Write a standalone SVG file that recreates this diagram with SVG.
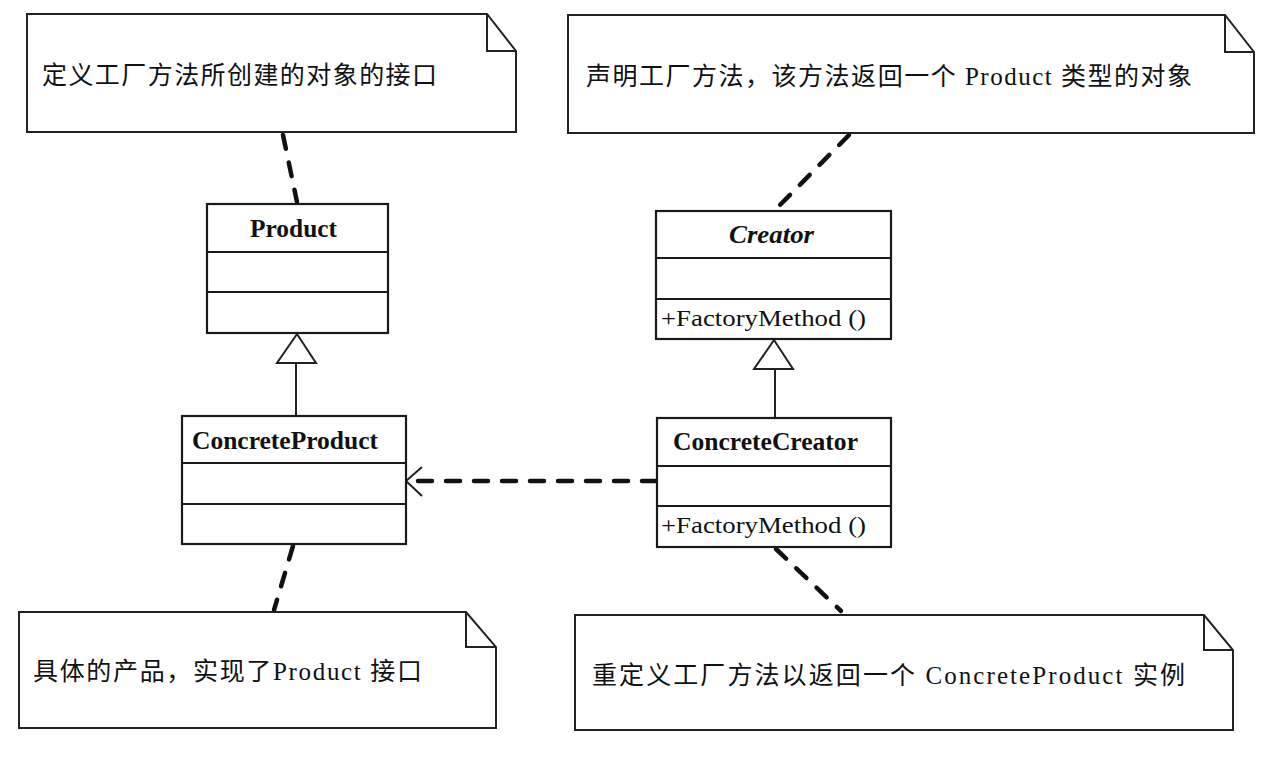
<svg xmlns="http://www.w3.org/2000/svg" width="1267" height="763" viewBox="0 0 1267 763">
<style>
.note{fill:#fff;stroke:#222;stroke-width:2}
.fold{fill:none;stroke:#222;stroke-width:2}
.box{fill:#fff;stroke:#1a1a1a;stroke-width:2.2}
.sep{stroke:#1a1a1a;stroke-width:2}
.ntxt{font-family:"Liberation Serif","Noto Sans CJK SC",serif;font-size:25px;fill:#111}
.cname{font-family:"Liberation Serif","Noto Sans CJK SC",serif;font-size:25px;font-weight:bold;fill:#111}
.op{font-family:"Liberation Serif","Noto Sans CJK SC",serif;font-size:24px;fill:#111}
.dash{fill:none;stroke:#111;stroke-width:4.5;stroke-dasharray:14 14;stroke-linecap:round}
.solid{fill:none;stroke:#222;stroke-width:2}
.tri{fill:#fff;stroke:#222;stroke-width:2;stroke-linejoin:miter}
</style>
<rect width="1267" height="763" fill="#fff"/>
<g id="connectors">
<line class="dash" x1="283" y1="135" x2="297" y2="202"/>
<line class="dash" x1="849" y1="135" x2="776" y2="209"/>
<line class="dash" x1="293" y1="546" x2="274" y2="610"/>
<line class="dash" x1="776" y1="549" x2="841" y2="611"/>
<line class="dash" x1="656" y1="481" x2="412" y2="481"/>
<polyline class="solid" points="422,467 406,481 422,496" stroke-width="2.5"/>
<line class="solid" x1="296" y1="363" x2="296" y2="416"/>
<polygon class="tri" points="297,334 277,363 316,363"/>
<line class="solid" x1="775" y1="369" x2="775" y2="418"/>
<polygon class="tri" points="774,340 754,369 793,369"/>
</g>
<g id="note-product">
<path class="note" d="M27,14 H487 L516,51 V132 H27 Z"/>
<path class="fold" d="M487,14 V51 H516"/>
<text class="ntxt" x="42" y="84" textLength="395" lengthAdjust="spacing">定义工厂方法所创建的对象的接口</text>
</g>
<g id="note-creator">
<path class="note" d="M568,15 H1225 L1254,52 V133 H568 Z"/>
<path class="fold" d="M1225,15 V52 H1254"/>
<text class="ntxt" x="586" y="85" textLength="606" lengthAdjust="spacing">声明工厂方法，该方法返回一个 Product 类型的对象</text>
</g>
<g id="note-concreteproduct">
<path class="note" d="M19,612 H466 L496,647 V728 H19 Z"/>
<path class="fold" d="M466,612 V647 H496"/>
<text class="ntxt" x="33" y="680" textLength="389" lengthAdjust="spacing">具体的产品，实现了Product 接口</text>
</g>
<g id="note-concretecreator">
<path class="note" d="M575,615 H1204 L1233,650 V730 H575 Z"/>
<path class="fold" d="M1204,615 V650 H1233"/>
<text class="ntxt" x="592" y="684" textLength="593" lengthAdjust="spacing">重定义工厂方法以返回一个 ConcreteProduct 实例</text>
</g>
<g id="class-product">
<rect class="box" x="207" y="204" width="181" height="129"/>
<line class="sep" x1="207" y1="252" x2="388" y2="252"/>
<line class="sep" x1="207" y1="292" x2="388" y2="292"/>
<text class="cname" x="250" y="237" textLength="87" lengthAdjust="spacingAndGlyphs">Product</text>
</g>
<g id="class-concreteproduct">
<rect class="box" x="182" y="416" width="224" height="128"/>
<line class="sep" x1="182" y1="463" x2="406" y2="463"/>
<line class="sep" x1="182" y1="504" x2="406" y2="504"/>
<text class="cname" x="192" y="449" textLength="186" lengthAdjust="spacingAndGlyphs">ConcreteProduct</text>
</g>
<g id="class-creator">
<rect class="box" x="656" y="211" width="235" height="128"/>
<line class="sep" x1="656" y1="258" x2="891" y2="258"/>
<line class="sep" x1="656" y1="299" x2="891" y2="299"/>
<text class="cname" x="729" y="243" font-style="italic" textLength="85" lengthAdjust="spacingAndGlyphs">Creator</text>
<text class="op" x="661" y="326" textLength="205" lengthAdjust="spacingAndGlyphs">+FactoryMethod ()</text>
</g>
<g id="class-concretecreator">
<rect class="box" x="657" y="418" width="234" height="129"/>
<line class="sep" x1="657" y1="466" x2="891" y2="466"/>
<line class="sep" x1="657" y1="506" x2="891" y2="506"/>
<text class="cname" x="673" y="450" textLength="185" lengthAdjust="spacingAndGlyphs">ConcreteCreator</text>
<text class="op" x="661" y="533" textLength="205" lengthAdjust="spacingAndGlyphs">+FactoryMethod ()</text>
</g>
</svg>
